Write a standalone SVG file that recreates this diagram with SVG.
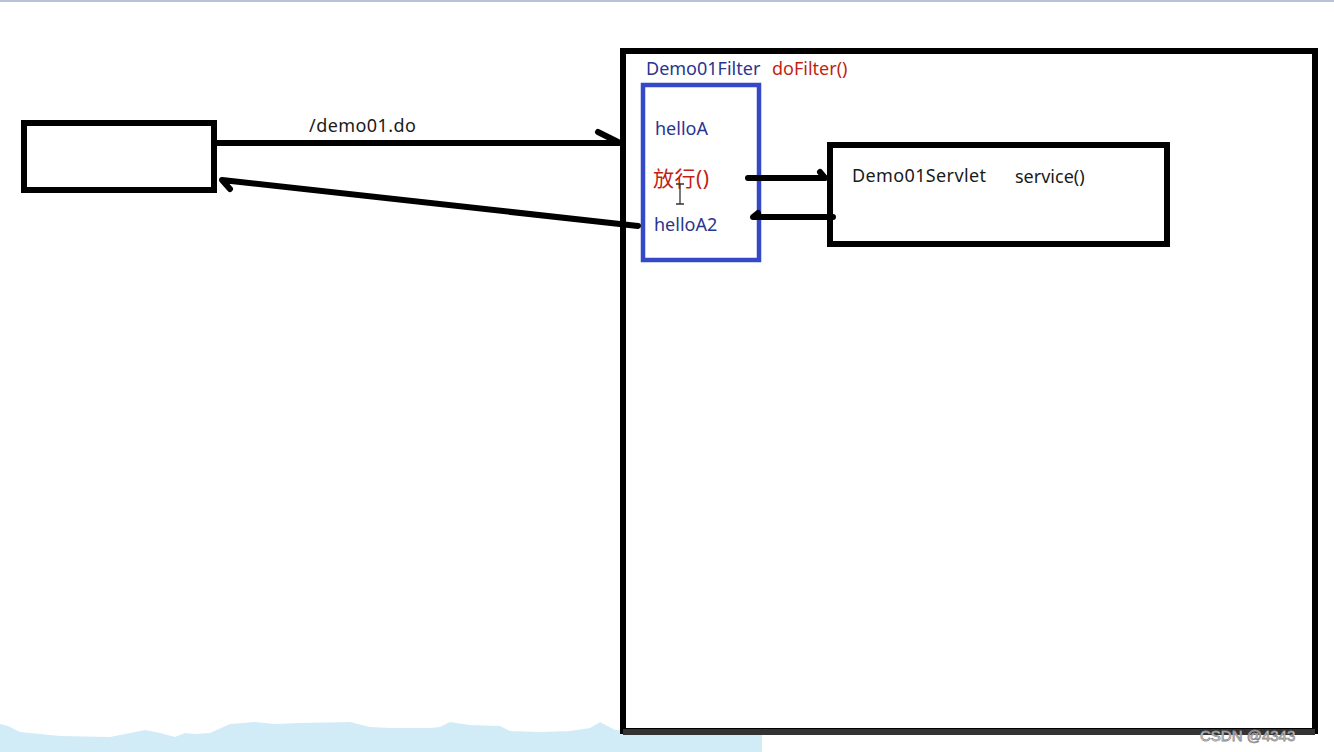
<svg xmlns="http://www.w3.org/2000/svg" width="1334" height="752" viewBox="0 0 1334 752">
<style>
.box{fill:#fff;stroke:#000;stroke-width:6}
.line{fill:none;stroke:#000;stroke-width:6;stroke-linecap:round;stroke-linejoin:round}
.t{font-family:"Noto Sans","Noto Sans CJK SC",sans-serif;font-size:18px}
.blue{fill:#2a3590}
.red{fill:#c21f14}
.dark{fill:#1a1a1a}
</style>
<rect width="1334" height="752" fill="#fff"/>
<rect x="0" y="0" width="1334" height="2" fill="#b8c4d6"/>
<path d="M0 724 L8 726 L20 732 L40 734 L60 736 L110 737 L130 733 L145 730 L160 733 L175 737 L185 733 L195 734 L210 733 L230 724 L255 722 L275 724 L300 723 L350 722 L370 727 L390 728 L430 728 L440 727 L450 722 L470 725 L500 726 L510 731 L540 732 L570 731 L590 728 L600 722 L615 730 L640 732 L660 733 L680 729 L700 729 L720 726 L762 725 L762 752 L0 752 Z" fill="#d2ecf7"/>
<g id="client">
<rect class="box" x="24" y="123" width="190" height="67"/>
</g>
<g id="container">
<rect class="box" x="623" y="51" width="692" height="680"/>
<rect x="623" y="729" width="692" height="6" fill="#333"/>
</g>
<g id="filter">
<rect x="643" y="85" width="116" height="175" fill="#fff" stroke="#3448c8" stroke-width="4.5"/>
<text class="t blue" x="646" y="75">Demo01Filter</text>
<text class="t red" x="772" y="75">doFilter()</text>
<text class="t blue" x="655" y="135">helloA</text>
<text class="t red" x="653" y="186" style="font-size:21px" textLength="56">放行()</text>
<text class="t blue" x="654" y="231">helloA2</text>
<path d="M676 184 L684 184 M680 184 L680 204 M676 204 L684 204" stroke="#333" stroke-width="1.3" fill="none"/>
</g>
<g id="servlet">
<rect class="box" x="830" y="145" width="337" height="99"/>
<text class="t dark" x="852" y="182" textLength="134">Demo01Servlet</text>
<text class="t dark" x="1015" y="183">service()</text>
</g>
<g id="connectors">
<path class="line" d="M214 143 L620 143 M598 132 L618 142"/>
<text class="t dark" x="309" y="132" textLength="107">/demo01.do</text>
<path class="line" d="M638 226 L222 180 L230 189"/>
<path class="line" d="M748 178 L825 178 L820 172"/>
<path class="line" d="M833 217 L753 217 L758 213"/>
</g>
<text x="1200" y="741" font-family="Liberation Sans, sans-serif" font-size="15" fill="#fff" stroke="#888" stroke-width="0.8">CSDN @4343</text>
</svg>
